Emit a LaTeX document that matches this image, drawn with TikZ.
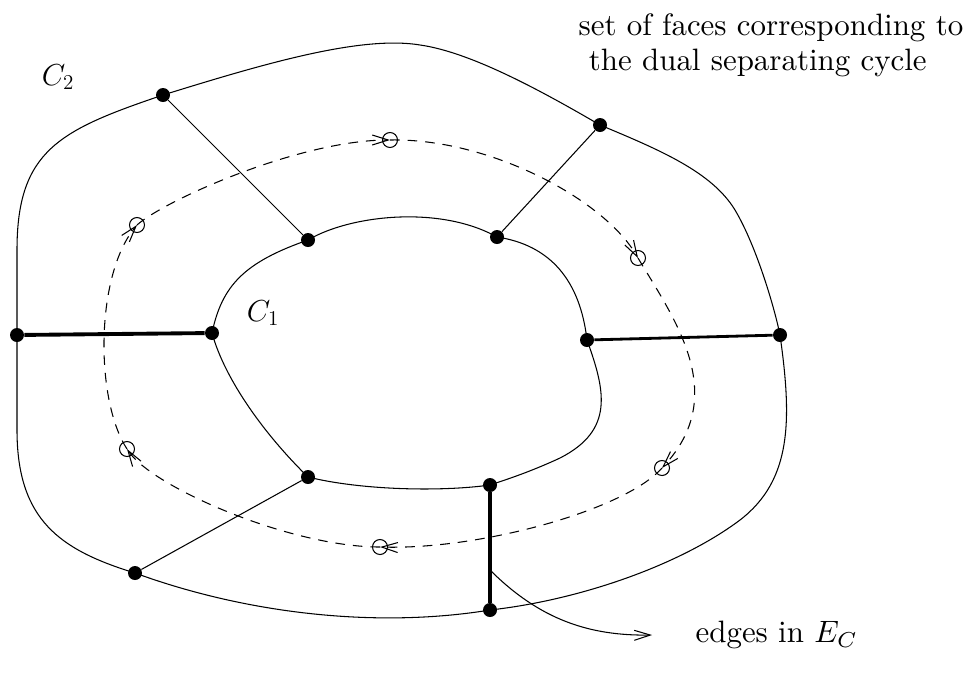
\documentclass[tikz,border=0pt]{standalone}
\usetikzlibrary{arrows.meta,calc}
\tikzset{
  vert/.style={circle, fill=black, inner sep=0pt, minimum size=2.8mm},
  dualpt/.style={circle, draw, line width=0.6pt, inner sep=0pt, minimum size=3mm},
  cyc/.style={line width=0.6pt},
  spoke/.style={line width=0.6pt},
  cutedge/.style={line width=2.2pt},
  midedge/.style={line width=1.6pt},
  dualarc/.style={line width=0.6pt, dash pattern=on 5.5pt off 4.5pt, -{Straight Barb[length=3.2mm,width=2mm]}},
  pointer/.style={line width=0.6pt, -{Straight Barb[length=3.2mm,width=2mm]}},
  lbl/.style={font=\fontsize{17.4}{21.5}\selectfont, inner sep=0pt},
  note/.style={font=\fontsize{10}{11.2}\selectfont, scale=1.76, inner sep=0pt},
}
\begin{document}
\begin{tikzpicture}[x=0.02cm, y=-0.02cm]
\useasboundingbox (0,0) rectangle (969,677);
% outer cycle C2
\node[vert] (o1) at (17,335) {};
\node[vert] (o2) at (163,95) {};
\node[vert] (o3) at (600,125) {};
\node[vert] (o4) at (780,335) {};
\node[vert] (o5) at (490,610) {};
\node[vert] (o6) at (135,573) {};
% inner cycle C1
\node[vert] (i1) at (212,333) {};
\node[vert] (i2) at (308,240) {};
\node[vert] (i3) at (497,237) {};
\node[vert] (i4) at (587,340) {};
\node[vert] (i5) at (490,485) {};
\node[vert] (i6) at (308,477) {};
% faces of the dual cycle
\node[dualpt] (d1) at (390,140) {};
\node[dualpt] (d2) at (638,258) {};
\node[dualpt] (d3) at (662,468) {};
\node[dualpt] (d4) at (380,547) {};
\node[dualpt] (d5) at (127,449) {};
\node[dualpt] (d6) at (137,225) {};

\draw[cyc] (o1.center) -- (17,250) .. controls (17,150) and (60,130) .. (o2.center)
  .. controls (260,65) and (360,35) .. (420,45)
  .. controls (470,52) and (540,90) .. (o3.center)
  .. controls (660,150) and (712,172) .. (735,210)
  .. controls (757,247) and (775,310) .. (o4.center)
  .. controls (792,420) and (792,480) .. (740,520)
  .. controls (680,565) and (580,600) .. (o5.center)
  .. controls (380,628) and (250,615) .. (o6.center)
  .. controls (60,550) and (17,520) .. (17,430) -- (o1.center);
\draw[cyc] (i1.center) .. controls (222,285) and (245,262) .. (i2.center)
  .. controls (350,215) and (440,205) .. (i3.center)
  .. controls (550,245) and (580,280) .. (i4.center)
  .. controls (605,390) and (615,430) .. (560,458)
  .. controls (530,472) and (505,480) .. (i5.center)
  .. controls (440,492) and (360,490) .. (i6.center)
  .. controls (265,435) and (225,380) .. (i1.center);

\draw[cutedge] (o1) -- (i1);
\draw[cutedge] (i5) -- (o5);
\draw[midedge] (i4) -- (o4);
\draw[spoke] (o2) -- (i2);
\draw[spoke] (o3) -- (i3);
\draw[spoke] (i6) -- (o6);

\draw[dualarc] (d6.center) .. controls (165,200) and (300,140) .. (d1.center);
\draw[dualarc] (d1.center) .. controls (490,138) and (605,200) .. (d2.center);
\draw[dualarc] (d2.center) .. controls (675,320) and (730,395) .. (d3.center);
\draw[dualarc] (d3.center) .. controls (625,510) and (480,550) .. (d4.center);
\draw[dualarc] (d4.center) .. controls (290,547) and (152,487) .. (d5.center);
\draw[dualarc] (d5.center) .. controls (95,400) and (95,275) .. (d6.center);

\node[lbl] (c2) at (58,77) {$C_2$};
\node[lbl] (c1) at (263,313) {$C_1$};
\node[note, anchor=north west, align=left] (faces) at (578,13)
  {set of faces corresponding to\\\ the dual separating cycle};
\coordinate (ec) at ($(i5)!0.68!(o5)$);
\coordinate (et) at (652,635);
\node[note, anchor=west] (edges) at (695,635) {edges in $E_C$};
\draw[pointer] (ec) .. controls (540,620) and (590,636) .. (et);
\end{tikzpicture}
\end{document}
